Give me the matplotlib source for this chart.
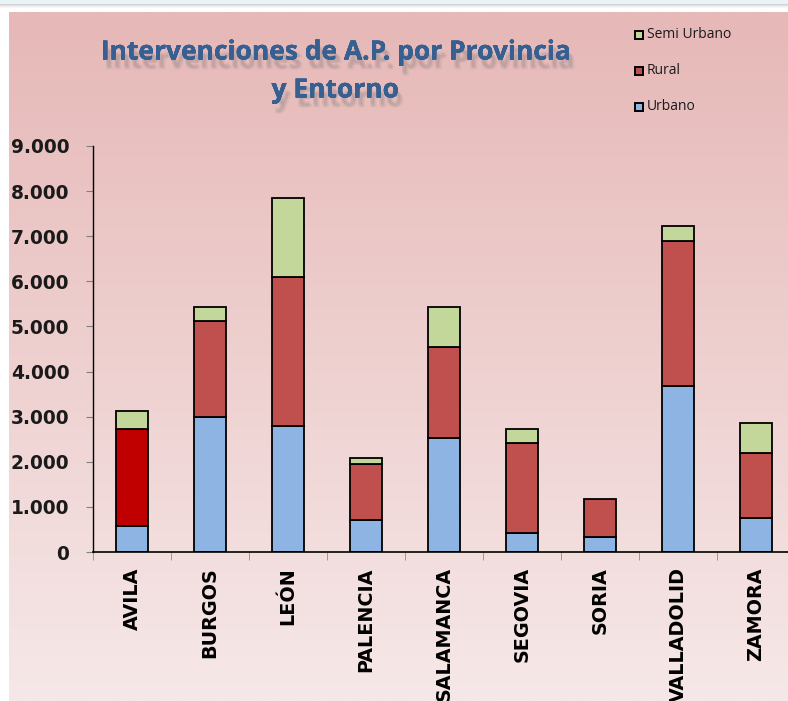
import numpy as np
import matplotlib
matplotlib.use("Agg")
import matplotlib.pyplot as plt
from matplotlib.patches import Rectangle
import matplotlib.patheffects as pe

provincias = ["AVILA", "BURGOS", "LEÓN", "PALENCIA", "SALAMANCA", "SEGOVIA", "SORIA", "VALLADOLID", "ZAMORA"]
urbano = [570, 3000, 2790, 710, 2530, 430, 325, 3685, 745]
rural = [2160, 2125, 3295, 1245, 2025, 1985, 855, 3215, 1440]
semi_urbano = [400, 310, 1765, 120, 880, 305, 0, 330, 680]
yticks = [0, 1000, 2000, 3000, 4000, 5000, 6000, 7000, 8000, 9000]
ytick_labels = ["0", "1.000", "2.000", "3.000", "4.000", "5.000", "6.000", "7.000", "8.000", "9.000"]

c_urb = "#8EB4E3"
c_rur = "#C0504D"
c_rur_avila = "#C00000"
c_semi = "#C4D79B"

W, H = 788, 701
fig = plt.figure(figsize=(W / 100, H / 100), dpi=100)
fig.patch.set_facecolor("white")

# top light-blue band with shadow
fig.patches.append(Rectangle((0, 1 - 4 / H), 1, 4 / H, transform=fig.transFigure,
                             facecolor="#E9F4F8", edgecolor="none", zorder=0))
for i, a in enumerate([0.35, 0.22, 0.12, 0.05]):
    fig.patches.append(Rectangle((0, 1 - (5 + i) / H), 1, 1 / H, transform=fig.transFigure,
                                 facecolor="#808080", alpha=a, edgecolor="none", zorder=0))

# gradient background
bg = fig.add_axes([9 / W, 0, 1 - 9 / W, 1 - 12 / H], zorder=-1)
grad = np.linspace(0, 1, 256).reshape(-1, 1)
top = np.array([0xE6, 0xB8, 0xB7]) / 255
bot = np.array([0xF6, 0xE8, 0xE8]) / 255
img = top[None, None, :] * (1 - grad[:, :, None]) + bot[None, None, :] * grad[:, :, None]
bg.imshow(img, aspect="auto", extent=[0, 1, 0, 1], origin="upper")
bg.set_axis_off()

ax = fig.add_axes([93 / W, 1 - 552 / H, 702 / W, (552 - 146) / H], zorder=1)
ax.patch.set_alpha(0)
x = np.arange(len(provincias))
u = np.array(urbano)
r = np.array(rural)
s = np.array(semi_urbano)
rcols = [c_rur_avila if p == "AVILA" else c_rur for p in provincias]
kw = dict(width=0.4, edgecolor="#000000", linewidth=1.3)
ax.bar(x, u, color=c_urb, label="Urbano", **kw)
ax.bar(x, r, bottom=u, color=rcols, label="Rural", **kw)
mask = s > 0
ax.bar(x[mask], s[mask], bottom=(u + r)[mask], color=c_semi, label="Semi Urbano", **kw)

ax.set_xlim(-0.5, 8.5)
ax.set_ylim(0, 9000)
for sp in ["top", "right"]:
    ax.spines[sp].set_visible(False)
ax.spines["left"].set_color("#000000")
ax.spines["bottom"].set_color("#000000")
ax.spines["left"].set_linewidth(1.0)
ax.spines["bottom"].set_linewidth(1.2)

ax.set_yticks(yticks)
ax.set_yticklabels(ytick_labels, fontsize=13.4, fontweight="bold", family="DejaVu Sans", color="#1a1a1a")
ax.tick_params(axis="y", length=5, color="#808080", pad=12)

ax.set_xticks(x)
ax.set_xticklabels(provincias, rotation=90, fontsize=13.8, fontweight="bold", family="DejaVu Sans", va="top")
ax.tick_params(axis="x", length=0, pad=11)
ax.set_xticks(np.arange(-0.5, 9, 1), minor=True)
ax.tick_params(axis="x", which="minor", length=6, color="#909090")

# title
title_fx = [pe.withSimplePatchShadow(offset=(2, -5), shadow_rgbFace="#777777", alpha=0.12),
            pe.withSimplePatchShadow(offset=(3, -6), shadow_rgbFace="#777777", alpha=0.12),
            pe.withSimplePatchShadow(offset=(4, -7), shadow_rgbFace="#777777", alpha=0.10),
            pe.withSimplePatchShadow(offset=(2, -7), shadow_rgbFace="#777777", alpha=0.10),
            pe.Normal()]
fig.text(335 / W, 1 - 52 / H, "Intervenciones de A.P. por Provincia", ha="center", va="center",
         fontsize=19, fontweight="bold", family="Open Sans", color="#376092", path_effects=title_fx)
fig.text(335 / W, 1 - 90 / H, "y Entorno", ha="center", va="center",
         fontsize=19, fontweight="bold", family="Open Sans", color="#376092", path_effects=title_fx)

# legend
leg_items = [("Semi Urbano", c_semi, 35), ("Rural", c_rur, 71), ("Urbano", c_urb, 107)]
for lbl, col, yy in leg_items:
    fig.patches.append(Rectangle((635 / W, 1 - (yy + 4) / H), 8 / W, 8 / H, transform=fig.transFigure,
                                 facecolor=col, edgecolor="black", linewidth=1.4, zorder=3))
    fig.text(647 / W, 1 - yy / H, lbl, ha="left", va="center", fontsize=10, family="Open Sans",
             color="#1a1a1a")

fig.savefig("out.png", dpi=100)
